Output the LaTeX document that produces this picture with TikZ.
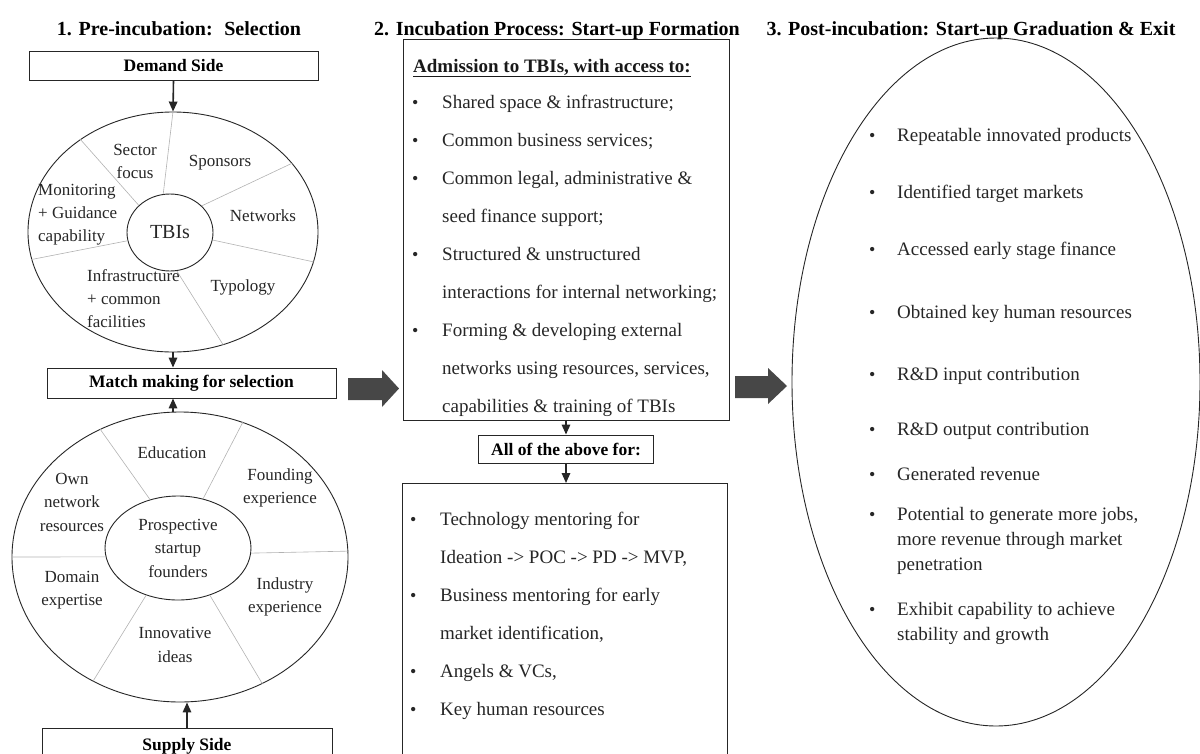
\documentclass[tikz,border=0pt]{standalone}
\usepackage{fontspec}
\setmainfont{Liberation Serif}
\usetikzlibrary{shapes.geometric,arrows.meta,calc}
\newcommand\mybul[1]{\makebox[#1][l]{\fontsize{18}{18}\selectfont\textbullet}}
\begin{document}
\begin{tikzpicture}[x=1pt,y=-1pt,
  box/.style={draw=black!85, line width=0.9pt, inner sep=0pt},
  ell/.style={ellipse, draw=black!85, line width=0.9pt, inner sep=0pt},
  divl/.style={draw=gray!60, line width=0.6pt},
  arr/.style={draw=black!85, line width=1.6pt, -{Triangle[width=8.5pt,length=10pt]}},
  ttl/.style={font=\fontsize{20}{24}\selectfont\bfseries, anchor=base, inner sep=0pt},
  boxt/.style={font=\fontsize{17.5}{22}\selectfont\bfseries},
  lbl/.style={font=\fontsize{17}{23}\selectfont, align=center, text=black!85, inner sep=0pt},
  lbll/.style={font=\fontsize{17}{23}\selectfont, align=left, anchor=west, text=black!85, inner sep=0pt},
  body/.style={font=\fontsize{19}{38}\selectfont, align=left, anchor=base west, inner sep=0pt, text=black!85},
  rit/.style={font=\fontsize{19}{25}\selectfont, align=left, anchor=base west, inner sep=0pt, text=black!85},
  blk/.style={fill=black!72}]
\useasboundingbox (0,0) rectangle (1200,753);

% titles
\node[ttl] (t1) at (179,35) {1. Pre-incubation: \ Selection};
\node[ttl] (t2) at (557,35) {2. Incubation Process: Start-up Formation};
\node[ttl] (t3) at (971,35) {3. Post-incubation: Start-up Graduation \& Exit};

% ---------- column 1 ----------
\node[box, boxt, minimum width=289pt, minimum height=29pt] (dem) at (173.5,65.5) {Demand Side};
\node[ell, minimum width=290pt, minimum height=240pt] (ell1) at (173,232) {};
\node[ell, minimum width=86pt, minimum height=77pt, font=\fontsize{20}{24}\selectfont, text=black!85] (in1) at (170,232.5) {TBIs};
\draw[divl] (in1.100) -- (ell1.90);
\draw[divl] (in1.40) -- (ell1.30);
\draw[divl] (in1.-10) -- (ell1.-12);
\draw[divl] (in1.-80) -- (ell1.-66);
\draw[divl] (in1.191) -- (ell1.191);
\draw[divl] (in1.139) -- (ell1.135);
\node[lbl] (sf) at (135,161) {Sector\\focus};
\node[lbl] (sp) at (220,163) {Sponsors};
\node[lbll] (mg) at (38,215) {Monitoring\\+ Guidance\\capability};
\node[lbl] (nw) at (263,216) {Networks};
\node[lbll] (inf) at (87,299) {Infrastructure\\+ common\\facilities};
\node[lbl] (ty) at (243,287) {Typology};

\node[box, boxt, minimum width=289pt, minimum height=30pt] (match) at (191.5,383) {Match making for selection};

\node[ell, minimum width=336pt, minimum height=290pt] (ell2) at (180,557) {};
\node[ell, minimum width=146pt, minimum height=104pt, font=\fontsize{17}{23.5}\selectfont, align=center, text=black!85] (in2) at (178,548) {Prospective\\startup\\founders};
\draw[divl] (in2.120) -- (ell2.122.6);
\draw[divl] (in2.63.4) -- (ell2.65.9);
\draw[divl] (in2.-4) -- (ell2.2);
\draw[divl] (in2.-56) -- (ell2.-57.6);
\draw[divl] (in2.236.6) -- (ell2.235.9);
\draw[divl] (in2.187) -- (ell2.180);
\node[lbl] (edu) at (172,453) {Education};
\node[lbl, font=\fontsize{17}{23.5}\selectfont] (own) at (72,502) {Own\\network\\resources};
\node[lbl, font=\fontsize{17}{23.5}\selectfont] (fe) at (280,488) {Founding\\experience};
\node[lbl, font=\fontsize{17}{23.5}\selectfont] (de) at (72,590) {Domain\\expertise};
\node[lbl, font=\fontsize{17}{23.5}\selectfont] (ie) at (285,597) {Industry\\experience};
\node[lbl, font=\fontsize{17}{23.5}\selectfont] (ii) at (175,645) {Innovative\\ideas};

\node[box, boxt, minimum width=290pt, minimum height=36pt, anchor=north] (sup) at (187,728) {Supply Side};

\draw[arr] (dem.south) -- (ell1.north);
\draw[arr] (ell1.south) -- (ell1.south |- match.north);
\draw[arr] (ell2.north -| ell1.south) -- (match.south -| ell1.south);
\draw[arr] (sup.north) -- (sup.north |- ell2.south);

% big arrow 1
\fill[blk] (348,378) -- (382,378) -- (382,370) -- (399,388.5) -- (382,407) -- (382,400) -- (348,400) -- cycle;

% ---------- column 2 ----------
\node[box, minimum width=326pt, minimum height=381pt] (bx1) at (566,229.5) {};
\node[anchor=base west, inner sep=0pt, font=\fontsize{19}{24}\selectfont\bfseries, text=black!90] (adm) at (413,72) {\underline{Admission to TBIs, with access to:}};
% multi-line nodes: base anchor = last line's baseline
\node[body] (l1) at (412,412) {\mybul{30pt}Shared space \& infrastructure;\\
\mybul{30pt}Common business services;\\
\mybul{30pt}Common legal, administrative \&\\
\hspace*{30pt}seed finance support;\\
\mybul{30pt}Structured \& unstructured\\
\hspace*{30pt}interactions for internal networking;\\
\mybul{30pt}Forming \& developing external\\
\hspace*{30pt}networks using resources, services,\\
\hspace*{30pt}capabilities \& training of TBIs};

\node[box, boxt, minimum width=175pt, minimum height=28pt] (all) at (566,449) {All of the above for:};
\node[box, minimum width=325pt, minimum height=300pt, anchor=north] (bx2) at (565,483) {};
\node[body] (l2) at (410,715) {\mybul{30pt}Technology mentoring for\\
\hspace*{30pt}Ideation -> POC -> PD -> MVP,\\
\mybul{30pt}Business mentoring for early\\
\hspace*{30pt}market identification,\\
\mybul{30pt}Angels \& VCs,\\
\mybul{30pt}Key human resources};

\draw[arr] (bx1.south) -- (bx1.south |- all.north);
\draw[arr] (all.south) -- (all.south |- bx2.north);

% big arrow 2
\fill[blk] (735,376) -- (768,376) -- (768,368) -- (787,386) -- (768,404) -- (768,398) -- (735,398) -- cycle;

% ---------- column 3 ----------
\node[ell, minimum width=408pt, minimum height=688pt] (ell3) at (996,382) {};
\node[rit] (r1) at (869,141) {\mybul{28pt}Repeatable innovated products};
\node[rit] (r2) at (869,198) {\mybul{28pt}Identified target markets};
\node[rit] (r3) at (869,255) {\mybul{28pt}Accessed early stage finance};
\node[rit] (r4) at (869,318) {\mybul{28pt}Obtained key human resources};
\node[rit] (r5) at (869,380) {\mybul{28pt}R\&D input contribution};
\node[rit] (r6) at (869,435) {\mybul{28pt}R\&D output contribution};
\node[rit] (r7) at (869,480) {\mybul{28pt}Generated revenue};
\node[rit] (r8) at (869,570) {\mybul{28pt}Potential to generate more jobs,\\
\hspace*{28pt}more revenue through market\\
\hspace*{28pt}penetration};
\node[rit] (r9) at (869,640) {\mybul{28pt}Exhibit capability to achieve\\
\hspace*{28pt}stability and growth};
\end{tikzpicture}
\end{document}
